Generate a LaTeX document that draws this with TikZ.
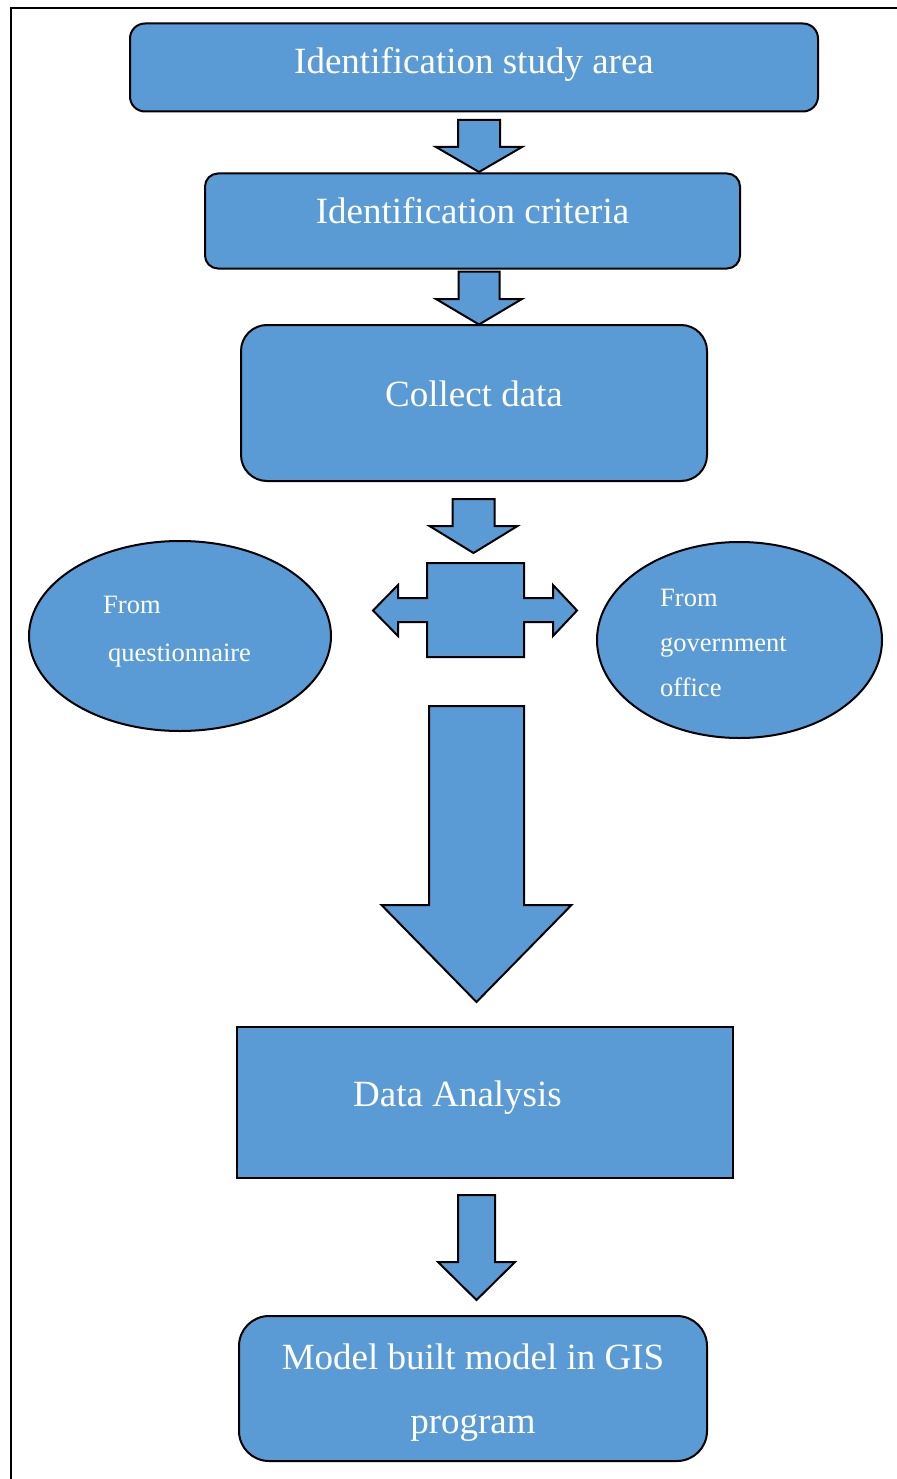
\documentclass[tikz,border=0pt]{standalone}
\usepackage{fontspec}
\setmainfont{Liberation Serif}
\usetikzlibrary{shapes.geometric}

\definecolor{boxblue}{HTML}{5B9BD5}

\tikzset{
  stepbox/.style={draw=black, fill=boxblue, text=white, line width=2pt,
    inner sep=0pt, font=\fontsize{37}{44}\selectfont,
    text height=26pt, text depth=20pt},
  sourceoval/.style={draw=black, fill=boxblue, ellipse, line width=2pt, inner sep=0pt},
  sourcetext/.style={text=white, inner sep=0pt, align=left},
  blockarrow/.style={draw=black, fill=boxblue, line width=2pt, line join=miter}
}

% #1 x, #2 top, #3 head, #4 tip, #5 shaft half width, #6 head half width
\newcommand{\blockdown}[6]{%
  \draw[blockarrow] (#1-#5,#2) -- (#1+#5,#2) -- (#1+#5,#3) -- (#1+#6,#3)
    -- (#1,#4) -- (#1-#6,#3) -- (#1-#5,#3) -- cycle;}

\begin{document}
\begin{tikzpicture}[x=1pt,y=-1pt]
  \useasboundingbox (0,0) rectangle (896,1479);

  % frame
  \draw[line width=2pt] (900,8.3) -- (10.7,8.3) -- (10.7,1485);

  % steps
  \node[stepbox, text depth=14pt, rounded corners=15pt, minimum width=688, minimum height=88] (study) at (474,67.5) {Identification study area};
  \node[stepbox, rounded corners=13pt, minimum width=535, minimum height=95] (criteria) at (472.5,221) {Identification criteria};
  \node[stepbox, rounded corners=26pt, minimum width=466, minimum height=156] (collect) at (474,403) {Collect data};
  \node[stepbox, minimum width=496, minimum height=151] (analysis) at (485,1102.5) {};
  \node[text=white, inner sep=0pt, font=\fontsize{37}{44}\selectfont, anchor=base] (analysistext) at (457.5,1106.7) {Data Analysis};
  \node[draw=black, fill=boxblue, text=white, line width=2pt, inner sep=0pt, rounded corners=30pt,
    minimum width=468, minimum height=145, align=center, font=\fontsize{37}{64}\selectfont,
    text depth=0pt] (model) at (473,1388.5)
    {Model built model in GIS\\program};

  % sources
  \node[sourceoval, minimum width=302, minimum height=190] (quest) at (180,636) {};
  \node[sourcetext, font=\fontsize{26.5}{48}\selectfont, anchor=base west] (questtext) at (103,661)
    {From\\\hspace*{5pt}questionnaire};
  \node[sourceoval, minimum width=285, minimum height=196] (office) at (739.5,640) {};
  \node[sourcetext, font=\fontsize{26.5}{45.4}\selectfont, anchor=base west] (officetext) at (660,696.8)
    {From\\government\\office};

  % arrows
  \blockdown{479}{120}{147}{172}{21}{43}
  \blockdown{479}{271.5}{299}{324.5}{20.5}{43}
  \blockdown{473.5}{499}{526}{553}{21}{44}
  \draw[blockarrow] (427,563) -- (524,563) -- (524,598) -- (553,598) -- (553,585) -- (577,610.5)
    -- (553,636) -- (553,622) -- (524,622) -- (524,657) -- (427,657) -- (427,622) -- (398,622)
    -- (398,636) -- (373,610.5) -- (398,585) -- (398,598) -- (427,598) -- cycle;
  \blockdown{476.5}{706}{905}{1002}{47.5}{95}
  \blockdown{476.5}{1195}{1262}{1300}{18.5}{38.5}

\end{tikzpicture}
\end{document}
